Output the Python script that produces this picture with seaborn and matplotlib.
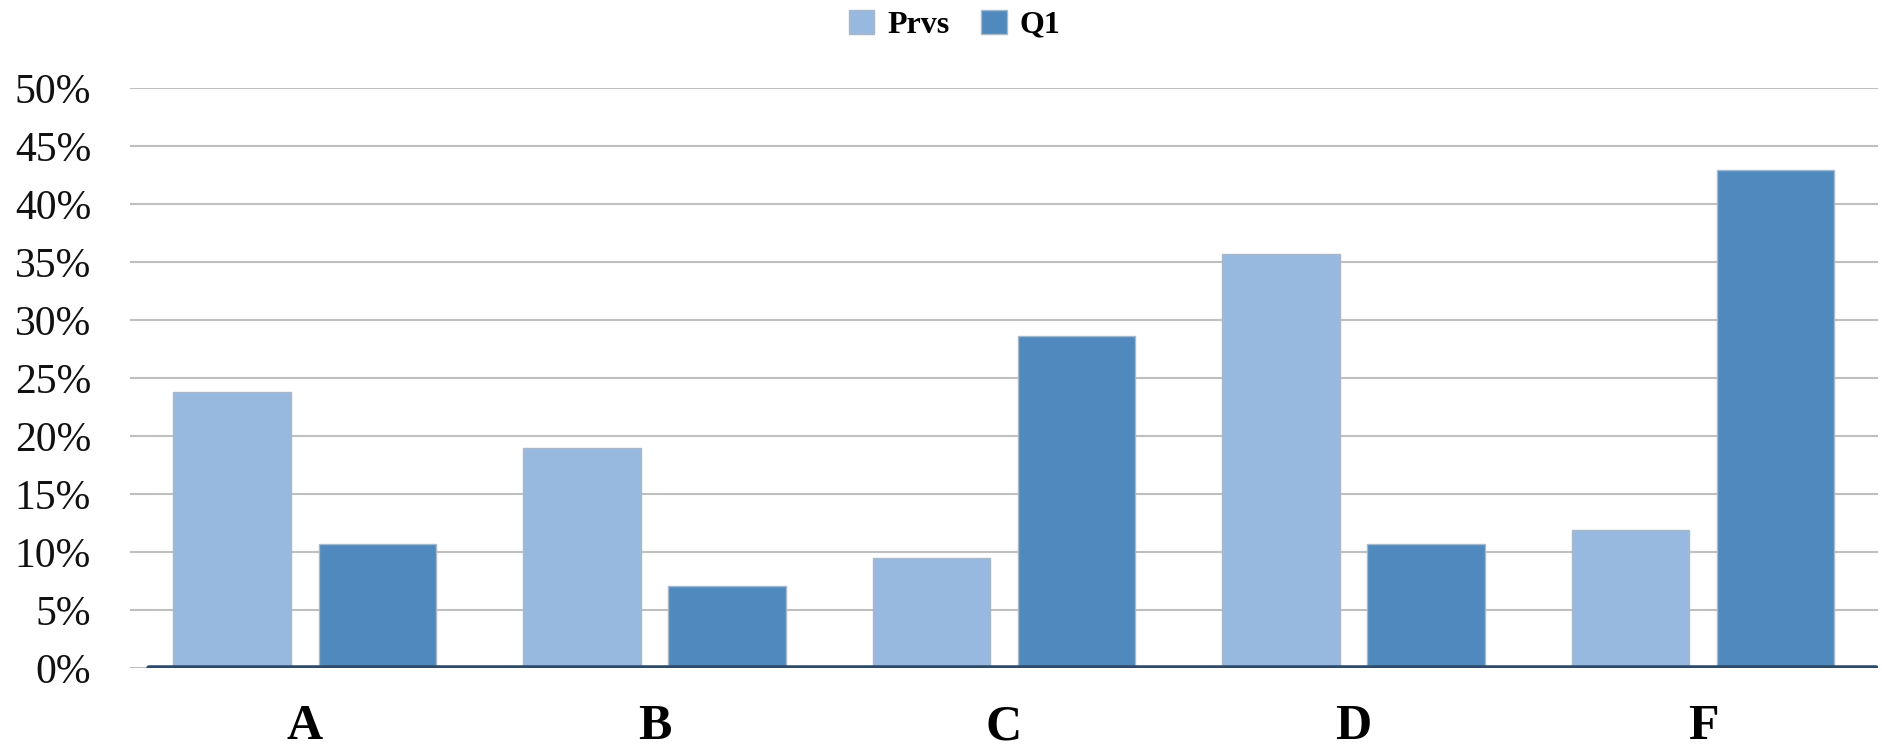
import matplotlib
matplotlib.use('Agg')
import matplotlib.pyplot as plt
import seaborn as sns
import pandas as pd
from matplotlib.ticker import PercentFormatter, MultipleLocator
from matplotlib.patches import Patch

# data
categories = ['A', 'B', 'C', 'D', 'F']
prvs = [0.238, 0.190, 0.095, 0.357, 0.119]
q1 = [0.107, 0.071, 0.286, 0.107, 0.429]
series = ['Prvs', 'Q1']
colors = ['#98B9DF', '#4F89BD']

df = pd.DataFrame({
    'grade': categories * 2,
    'value': prvs + q1,
    'series': ['Prvs'] * len(categories) + ['Q1'] * len(categories),
})

sns.set_style('white')
plt.rcParams['font.family'] = ['Liberation Serif', 'DejaVu Serif']
plt.rcParams['text.color'] = 'black'

fig = plt.figure(figsize=(18.83, 7.49), dpi=100)
ax = fig.add_axes([0.069, 0.108, 0.9283, 0.7745])

sns.barplot(data=df, x='grade', y='value', hue='series', order=categories,
            hue_order=series, palette=colors, saturation=1, width=0.83, gap=0.19,
            edgecolor='#A9B8C8', linewidth=1, legend=False, ax=ax, zorder=3)

ax.set_xlim(-0.5, len(categories) - 0.5)
ax.set_ylim(0, 0.5)
ax.yaxis.set_major_locator(MultipleLocator(0.05))
ax.yaxis.set_major_formatter(PercentFormatter(1.0, decimals=0))
ax.grid(axis='y', color='#BFBFBF', linewidth=1.5, zorder=0)
ax.set_axisbelow(True)
for s in ax.spines.values():
    s.set_visible(False)
ax.axhline(0, xmin=0.011, xmax=0.999, color='#2E4B6B', linewidth=4, zorder=5)

ax.set_xlabel('')
ax.set_ylabel('')
ax.tick_params(axis='y', length=0, pad=28, labelsize=30, labelcolor='#111111')
ax.tick_params(axis='x', length=0, pad=26, labelsize=36, labelcolor='black')
for t in ax.get_xticklabels():
    t.set_fontweight('bold')

handles = [Patch(facecolor=c, edgecolor='#A9B8C8') for c in colors]
fig.legend(handles, series, loc='center', bbox_to_anchor=(0.507, 0.967), ncol=2,
           frameon=False, prop={'size': 23, 'weight': 'bold'}, labelcolor='black',
           handlelength=0.8, handleheight=0.8, handletextpad=0.4, columnspacing=1.0)

fig.savefig('out.png', dpi=100)
